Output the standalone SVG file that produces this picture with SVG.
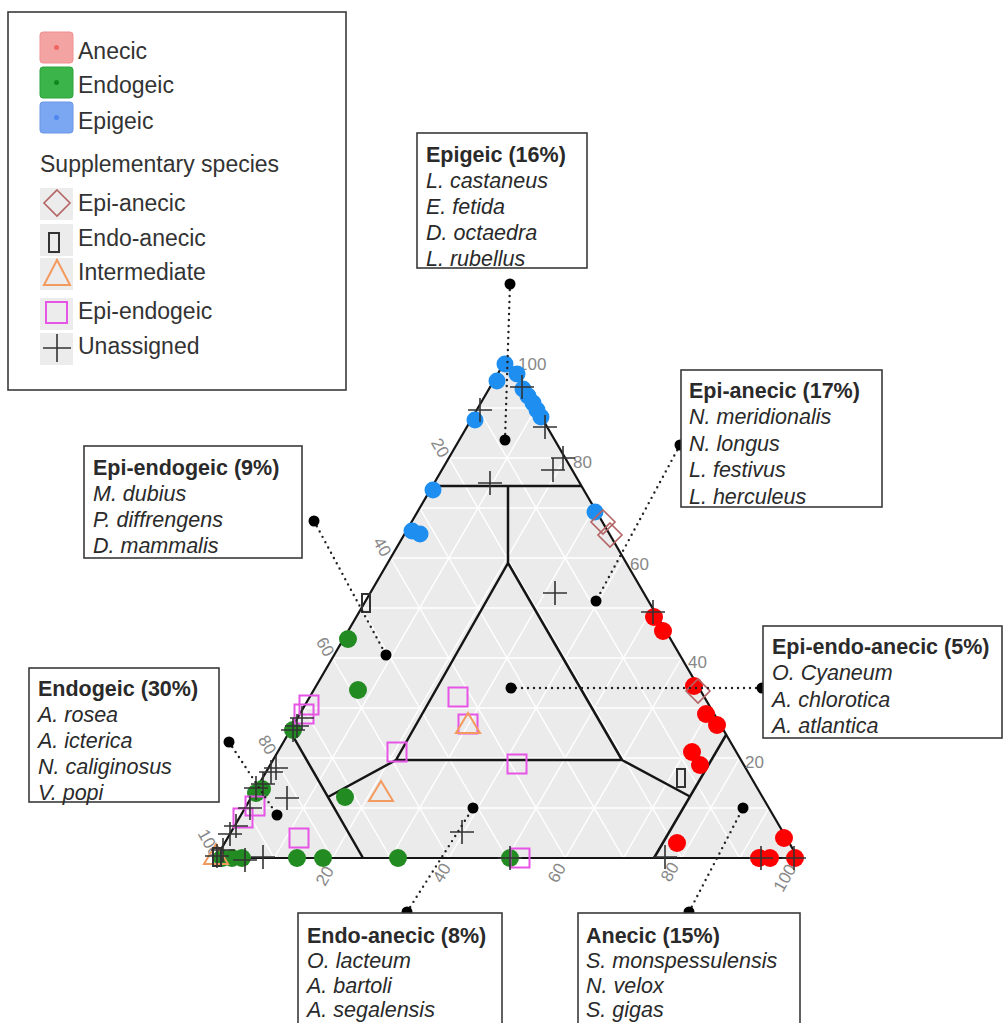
<svg xmlns="http://www.w3.org/2000/svg" xmlns:xlink="http://www.w3.org/1999/xlink" width="1004" height="1023" viewBox="0 0 1004 1023">
<style>
.box{fill:#fff;stroke:#3a3a3a;stroke-width:1.6}
.t{font-family:"Liberation Sans",Arial,sans-serif;font-size:21.5px;fill:#2a2a2a}
.b{font-weight:bold}
.i{font-style:italic}
.lg{font-family:"Liberation Sans",Arial,sans-serif;font-size:23px;fill:#333}
.tick{font-family:"Liberation Sans",Arial,sans-serif;font-size:17px;fill:#888}
.grid{stroke:#fff;stroke-width:1.4;fill:none}
.bnd{stroke:#151515;stroke-width:2.5;fill:none}
.con{stroke:#222;stroke-width:2.4;stroke-dasharray:0 6;stroke-linecap:round;fill:none}
.dot{fill:#000}
.ep{fill:#1e8ff0}
.an{fill:#ff0000}
.en{fill:#228b22}
.pl{stroke:#333;stroke-width:1.6;fill:none}
.sq{fill:none;stroke:#e655e6;stroke-width:2}
.tri{fill:none;stroke:#f39a5e;stroke-width:2}
.dia{fill:none;stroke:#b46464;stroke-width:1.6}
.rc{fill:none;stroke:#333;stroke-width:2}
</style>
<defs>
<path id="plus" class="pl" d="M-12 0H12M0-12V12"/>
<rect id="sq" class="sq" x="-9.5" y="-9.5" width="19" height="19"/>
<path id="tri" class="tri" d="M0-11L12 9H-12Z"/>
<path id="dia" class="dia" d="M0-12L12 0L0 12L-12 0Z"/>
<rect id="rc" class="rc" x="-4" y="-9" width="8" height="18"/>
</defs>
<rect width="1004" height="1023" fill="#fff"/>

<g id="legend">
<rect class="box" x="8" y="12" width="338" height="378"/>
<rect x="40" y="32" width="33" height="31" rx="3" fill="#f4a3a3" stroke="#f08f8f"/>
<circle cx="56.5" cy="47.5" r="2.5" fill="#f06464"/>
<rect x="40" y="67" width="33" height="31" rx="3" fill="#3bb54a" stroke="#2ea23c"/>
<circle cx="56.5" cy="82.5" r="2.5" fill="#0d8a1f"/>
<rect x="40" y="102" width="33" height="31" rx="3" fill="#7aa6f2" stroke="#6a96e8"/>
<circle cx="56.5" cy="117.5" r="2.5" fill="#4d86ee"/>
<text class="lg" x="78" y="59">Anecic</text>
<text class="lg" x="78" y="93">Endogeic</text>
<text class="lg" x="78" y="129">Epigeic</text>
<text class="lg" x="40" y="172" fill="#444">Supplementary species</text>
<rect x="40" y="188" width="33" height="32" fill="#ececec"/>
<rect x="40" y="224" width="33" height="32" fill="#ececec"/>
<rect x="40" y="258" width="33" height="32" fill="#ececec"/>
<rect x="40" y="298" width="33" height="32" fill="#ececec"/>
<rect x="40" y="333" width="33" height="32" fill="#ececec"/>
<path class="dia" d="M57 190L70 203L57 216L44 203Z"/>
<rect class="rc" x="49" y="233" width="10" height="19" stroke-width="2.5"/>
<path class="tri" d="M57 260L70 285H44Z"/>
<rect class="sq" x="46" y="302" width="21" height="21"/>
<path class="pl" d="M43 348H71M57 334V362"/>
<text class="lg" x="78" y="211">Epi-anecic</text>
<text class="lg" x="78" y="246">Endo-anecic</text>
<text class="lg" x="78" y="280">Intermediate</text>
<text class="lg" x="78" y="319">Epi-endogeic</text>
<text class="lg" x="78" y="354">Unassigned</text>
</g>

<g id="plot">
<polygon points="507,358 216,858 798,858" fill="#ebebeb"/>
<path class="grid" d="M477.9 408H536.1M448.8 458H565.2M419.7 508H594.3M390.6 558H623.4M361.5 608H652.5M332.4 658H681.6M303.3 708H710.7M274.2 758H739.8M245.1 808H768.9
M274.2 858L536.1 408M332.4 858L565.2 458M390.6 858L594.3 508M448.8 858L623.4 558M507 858L652.5 608M565.2 858L681.6 658M623.4 858L710.7 708M681.6 858L739.8 758M739.8 858L768.9 808
M274.2 858L245.1 808M332.4 858L274.2 758M390.6 858L303.3 708M448.8 858L332.4 658M507 858L361.5 608M565.2 858L390.6 558M623.4 858L419.7 508M681.6 858L448.8 458M739.8 858L477.9 408"/>
<path class="bnd" d="M432.5 486H581.5M508 486V563M508 563L396 760M508 563L622 760M396 760H622M396 760L328 797M622 760L689 796M290 731L363 858M726 735L654 858"/>
<polygon points="507,358 216,858 798,858" fill="none" stroke="#151515" stroke-width="2.2"/>
<g class="tick">
<text x="518" y="370">100</text>
<text x="573" y="468">80</text>
<text x="630" y="570">60</text>
<text x="688" y="668">40</text>
<text x="745" y="768">20</text>
</g>
<g class="tick" text-anchor="middle" dominant-baseline="central">
<text x="440" y="448" transform="rotate(60 440 448)">20</text>
<text x="382" y="547" transform="rotate(60 382 547)">40</text>
<text x="325" y="647" transform="rotate(60 325 647)">60</text>
<text x="267" y="745" transform="rotate(60 267 745)">80</text>
<text x="209" y="843" transform="rotate(60 209 843)">100</text>
<text x="325" y="876" transform="rotate(-60 325 876)">20</text>
<text x="442" y="873" transform="rotate(-60 442 873)">40</text>
<text x="557" y="873" transform="rotate(-60 557 873)">60</text>
<text x="670" y="872" transform="rotate(-60 670 872)">80</text>
<text x="785" y="878" transform="rotate(-60 785 878)">100</text>
</g>
<g class="ep">
<circle cx="505" cy="364" r="8.5"/><circle cx="497" cy="381" r="8.5"/><circle cx="517" cy="374" r="8.5"/><circle cx="523" cy="389" r="8.5"/><circle cx="528" cy="396" r="8.5"/><circle cx="533" cy="403" r="8.5"/><circle cx="537" cy="410" r="8.5"/><circle cx="541" cy="417" r="8.5"/><circle cx="475" cy="420" r="8.5"/><circle cx="433" cy="490" r="8.5"/><circle cx="412" cy="531" r="8.5"/><circle cx="420" cy="534" r="8.5"/><circle cx="595" cy="512" r="8.5"/>
</g>
<g class="an">
<circle cx="654" cy="617" r="9"/><circle cx="663" cy="631" r="9"/><circle cx="694" cy="686" r="9"/><circle cx="706" cy="714" r="9"/><circle cx="717" cy="725" r="9"/><circle cx="692" cy="752" r="9"/><circle cx="700" cy="765" r="9"/><circle cx="677" cy="843" r="9"/><circle cx="784" cy="838" r="9"/><circle cx="759" cy="858" r="9"/><circle cx="770" cy="858" r="9"/><circle cx="795" cy="858" r="9"/>
</g>
<g class="en">
<circle cx="348" cy="639" r="9"/><circle cx="358" cy="690" r="9"/><circle cx="293" cy="730" r="9"/><circle cx="262" cy="789" r="9"/><circle cx="256" cy="793" r="9"/><circle cx="345" cy="797" r="9"/><circle cx="297" cy="858" r="9"/><circle cx="323" cy="858" r="9"/><circle cx="398" cy="858" r="9"/><circle cx="510" cy="858" r="9"/><circle cx="242" cy="858" r="9"/><circle cx="232" cy="858" r="9"/><circle cx="222" cy="858" r="9"/>
</g>
<use href="#sq" x="458" y="697"/><use href="#sq" x="468" y="724"/><use href="#sq" x="397" y="752"/><use href="#sq" x="517" y="764"/><use href="#sq" x="520" y="858"/><use href="#sq" x="299" y="838"/><use href="#sq" x="309" y="705"/><use href="#sq" x="304" y="714"/><use href="#sq" x="243" y="818"/><use href="#sq" x="255" y="806"/>
<use href="#tri" x="468" y="724"/><use href="#tri" x="381" y="792"/><use href="#tri" x="216" y="855"/>
<use href="#dia" x="603" y="522"/><use href="#dia" x="610" y="535"/><use href="#dia" x="698" y="691"/>
<use href="#rc" x="366" y="603"/><use href="#rc" x="681" y="778"/><use href="#rc" x="217" y="857"/>
<use href="#plus" x="522" y="387"/><use href="#plus" x="480" y="410"/><use href="#plus" x="545" y="427"/><use href="#plus" x="563" y="458"/><use href="#plus" x="553" y="470"/><use href="#plus" x="490" y="483"/><use href="#plus" x="555" y="593"/><use href="#plus" x="653" y="612"/><use href="#plus" x="462" y="832"/><use href="#plus" x="510" y="858"/><use href="#plus" x="665" y="857"/><use href="#plus" x="761" y="858"/><use href="#plus" x="794" y="858"/><use href="#plus" x="287" y="798"/><use href="#plus" x="271" y="772"/><use href="#plus" x="276" y="768"/><use href="#plus" x="263" y="784"/><use href="#plus" x="256" y="788"/><use href="#plus" x="302" y="718"/><use href="#plus" x="293" y="730"/><use href="#plus" x="297" y="726"/><use href="#plus" x="250" y="808"/><use href="#plus" x="236" y="826"/><use href="#plus" x="230" y="834"/><use href="#plus" x="223" y="850"/><use href="#plus" x="217" y="856"/><use href="#plus" x="245" y="860"/><use href="#plus" x="263" y="857"/>
</g>

<g id="connectors">
<path class="con" d="M510 284L505 440M680 445L596 601M314 521L386 655M762 688L511 688M229 742L277 815M407 912L473 808M689 912L743 808"/>
<g class="dot">
<circle cx="510" cy="284" r="5.5"/><circle cx="505" cy="440" r="5.5"/><circle cx="680" cy="445" r="5.5"/><circle cx="596" cy="601" r="5.5"/><circle cx="314" cy="521" r="5.5"/><circle cx="386" cy="655" r="5.5"/><circle cx="762" cy="688" r="5.5"/><circle cx="511" cy="688" r="5.5"/><circle cx="229" cy="742" r="5.5"/><circle cx="277" cy="815" r="5.5"/><circle cx="407" cy="912" r="5.5"/><circle cx="473" cy="808" r="5.5"/><circle cx="689" cy="912" r="5.5"/><circle cx="743" cy="808" r="5.5"/>
</g>
</g>

<g id="box-epigeic">
<rect class="box" x="417" y="133" width="170" height="135"/>
<text class="t b" x="426" y="162">Epigeic (16%)</text>
<text class="t i" x="426" y="188">L. castaneus</text>
<text class="t i" x="426" y="214">E. fetida</text>
<text class="t i" x="426" y="240">D. octaedra</text>
<text class="t i" x="426" y="266">L. rubellus</text>
</g>
<g id="box-epi-anecic">
<rect class="box" x="681" y="370" width="201" height="137"/>
<text class="t b" x="689" y="398">Epi-anecic (17%)</text>
<text class="t i" x="689" y="424">N. meridionalis</text>
<text class="t i" x="689" y="451">N. longus</text>
<text class="t i" x="689" y="477">L. festivus</text>
<text class="t i" x="689" y="504">L. herculeus</text>
</g>
<g id="box-epi-endogeic">
<rect class="box" x="84" y="446" width="218" height="112"/>
<text class="t b" x="93" y="475">Epi-endogeic (9%)</text>
<text class="t i" x="93" y="501">M. dubius</text>
<text class="t i" x="93" y="527">P. diffrengens</text>
<text class="t i" x="93" y="553">D. mammalis</text>
</g>
<g id="box-endogeic">
<rect class="box" x="29" y="668" width="190" height="134"/>
<text class="t b" x="38" y="696">Endogeic (30%)</text>
<text class="t i" x="38" y="722">A. rosea</text>
<text class="t i" x="38" y="748">A. icterica</text>
<text class="t i" x="38" y="774">N. caliginosus</text>
<text class="t i" x="38" y="800">V. popi</text>
</g>
<g id="box-epi-endo-anecic">
<rect class="box" x="763" y="626" width="239" height="112"/>
<text class="t b" x="772" y="654">Epi-endo-anecic (5%)</text>
<text class="t i" x="772" y="680">O. Cyaneum</text>
<text class="t i" x="772" y="707">A. chlorotica</text>
<text class="t i" x="772" y="733">A. atlantica</text>
</g>
<g id="box-endo-anecic">
<rect class="box" x="298" y="913" width="204" height="120"/>
<text class="t b" x="307" y="943">Endo-anecic (8%)</text>
<text class="t i" x="307" y="968">O. lacteum</text>
<text class="t i" x="307" y="993">A. bartoli</text>
<text class="t i" x="307" y="1017">A. segalensis</text>
</g>
<g id="box-anecic">
<rect class="box" x="578" y="913" width="222" height="120"/>
<text class="t b" x="586" y="943">Anecic (15%)</text>
<text class="t i" x="586" y="968">S. monspessulensis</text>
<text class="t i" x="586" y="993">N. velox</text>
<text class="t i" x="586" y="1017">S. gigas</text>
</g>
</svg>
